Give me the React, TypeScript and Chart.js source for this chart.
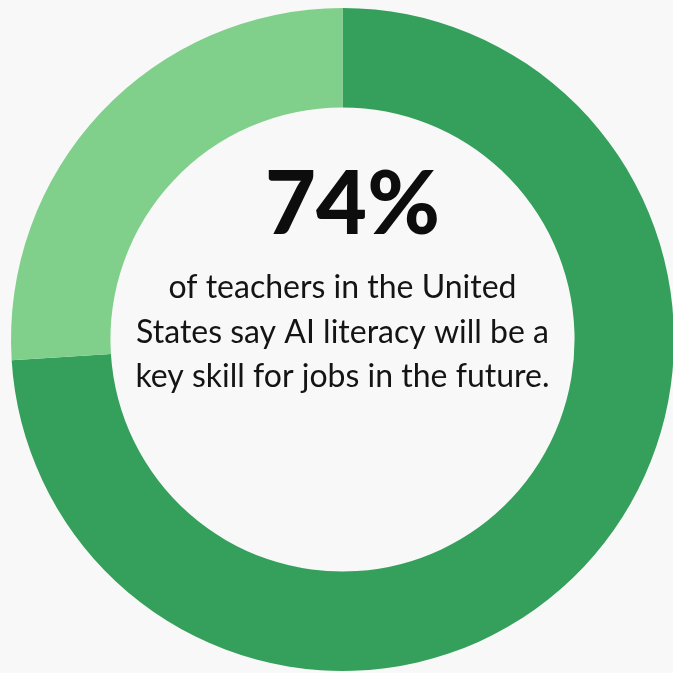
import React, { useEffect, useRef } from "react";
import { Chart, registerables } from "chart.js";

Chart.register(...registerables);

const categories: string[] = ["Say AI literacy is a key skill", "Other"];
const values: number[] = [74, 26];
const colors: string[] = ["#34a05b", "#80d08b"];
const headline = "74%";
const bodyLines: string[] = [
  "of teachers in the United",
  "States say AI literacy will be a",
  "key skill for jobs in the future.",
];

const centerText = {
  id: "centerText",
  afterDraw(chart: any) {
    const arc = chart.getDatasetMeta(0).data[0];
    if (!arc) return;
    const cx = arc.x;
    const cy = arc.y;
    const ctx = chart.ctx;
    ctx.save();
    ctx.fillStyle = "#0d0d0d";
    ctx.textAlign = "center";
    ctx.textBaseline = "alphabetic";
    ctx.font = "900 88px Lato";
    ctx.fillText(headline, cx + 10, cy - 106);
    ctx.fillStyle = "#141414";
    ctx.font = "32px Lato";
    const offs = [-41.5, 3.5, 47.5];
    bodyLines.forEach((l, i) => ctx.fillText(l, cx, cy + offs[i]));
    ctx.restore();
  },
};

export default function App() {
  const ref = useRef<HTMLCanvasElement | null>(null);
  useEffect(() => {
    document.body.style.margin = "0";
    document.body.style.background = "#f8f8f8";
    const chart = new Chart(ref.current as HTMLCanvasElement, {
      type: "doughnut",
      data: {
        labels: categories,
        datasets: [
          {
            data: values,
            backgroundColor: colors,
            borderWidth: 0,
          },
        ],
      },
      options: {
        animation: false,
        responsive: false,
        maintainAspectRatio: false,
        cutout: "70%",
        layout: { padding: { left: 11, top: 8, right: 26, bottom: 29 } },
        plugins: {
          legend: { display: false },
          tooltip: { enabled: false },
        },
      },
      plugins: [centerText],
    });
    return () => chart.destroy();
  }, []);
  return (
    <div
      style={{
        position: "fixed",
        left: 0,
        top: 0,
        width: 673,
        height: 673,
        overflow: "hidden",
        background: "#f8f8f8",
      }}
    >
      <canvas ref={ref} width={700} height={700} style={{ width: 700, height: 700, display: "block" }} />
    </div>
  );
}
